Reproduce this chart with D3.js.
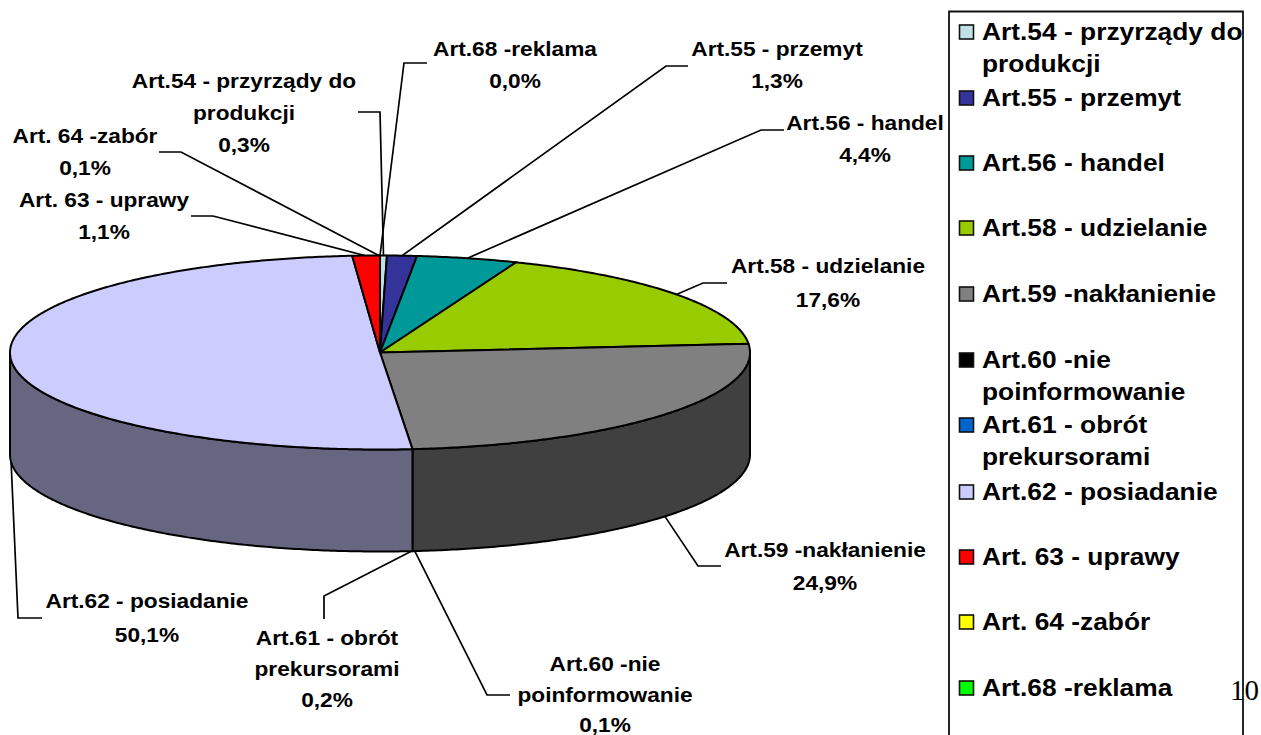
<!DOCTYPE html>
<html>
<head>
<meta charset="utf-8">
<script src="https://cdn.jsdelivr.net/npm/d3@7/dist/d3.min.js"></script>
<style>
html,body{margin:0;padding:0;background:#fff;overflow:hidden}
svg{display:block}
text{font-family:"Liberation Sans",Arial,sans-serif;font-weight:700;fill:#000}
</style>
</head>
<body>
<svg id="chart" width="1261" height="735"></svg>
<script>
// ---- data ----
const categories = [
  "Art.54 - przyrządy do\nprodukcji",
  "Art.55 - przemyt",
  "Art.56 - handel",
  "Art.58 - udzielanie",
  "Art.59 -nakłanienie",
  "Art.60 -nie\npoinformowanie",
  "Art.61 - obrót\nprekursorami",
  "Art.62 - posiadanie",
  "Art. 63 - uprawy",
  "Art. 64 -zabór",
  "Art.68 -reklama"
];
const values = [0.3, 1.3, 4.4, 17.6, 24.9, 0.1, 0.2, 50.1, 1.1, 0.1, 0.0];
const sliceColors = ["#BFE1E6","#333399","#009999","#99CC00","#808080","#000000","#0066CC","#CCCCFF","#FF0000","#FFFF00","#00FF00"];
const sideColors  = ["#60707A","#1A1A4D","#004D4D","#4D6600","#404040","#000000","#003366","#666680","#800000","#808000","#008000"];
const pageNumber = "10";

// ---- layout (separate from the data) ----
const cx = 380, cy = 352.5, rx = 370, ry = 97, depth = 102;
const labelLayout = [
  {x:244, y:88,  gap:32, elbow:[380,112], end:[358,112]},
  {x:777, y:56,  gap:32, elbow:[666,66],  end:[688,66]},
  {x:865, y:130, gap:32, elbow:[761,130], end:[784,130]},
  {x:828, y:273, gap:34, elbow:[703,283], end:[727,283]},
  {x:825, y:557, gap:33, elbow:[698,566], end:[721,566]},
  {x:605, y:671, gap:30.5, elbow:[487,695], end:[510,695]},
  {x:327, y:645, gap:31, elbow:[324,596], end:[324,619]},
  {x:147, y:608, gap:34, elbow:[18,618],  end:[42,618]},
  {x:104, y:207, gap:32, elbow:[213,216], end:[191,216]},
  {x:85,  y:143, gap:32, elbow:[181,152], end:[159,152]},
  {x:515, y:56,  gap:32, elbow:[404,63],  end:[427,63]}
];
const legendRows = [32,98,163,228,294,360,425,492,557,622,688];
const tinySlice = 0.25;      // slices this small vanish into the outline, as in the source picture

const svg = d3.select("#chart");
const xs = d3.scaleLinear().domain([-1,1]).range([cx-rx, cx+rx]);
const ys = d3.scaleLinear().domain([-1,1]).range([cy-ry, cy+ry]);
const px = a => xs(Math.sin(a));
const py = a => ys(-Math.cos(a));
const line = d3.line();

const arcs = d3.pie().sort(null).value(d => d).startAngle(0).endAngle(2*Math.PI)(values);
const samples = (a0, a1) => {
  const n = Math.max(2, Math.ceil((a1-a0)/0.01));
  return d3.range(n+1).map(i => a0 + (a1-a0)*i/n);
};

// visible extents: a visible slice reaches to the middle of any run of tiny neighbours
const visible = arcs.map((d,i) => {
  if (values[i] < tinySlice) return null;
  let s = i, e = i;
  while (s > 0 && values[s-1] < tinySlice) s--;
  while (e < arcs.length-1 && values[e+1] < tinySlice) e++;
  const start = s === i ? d.startAngle : (arcs[s].startAngle + d.startAngle)/2;
  const end = e === i ? d.endAngle : (e === arcs.length-1 ? 2*Math.PI : (d.endAngle + arcs[e].endAngle)/2);
  return {start, end};
});

// side walls (front half only)
const front = svg.append("g");
visible.forEach((d,i) => {
  if (!d) return;
  const a0 = Math.max(d.start, Math.PI/2), a1 = Math.min(d.end, 3*Math.PI/2);
  if (a1 <= a0) return;
  const top = samples(a0,a1).map(a => [px(a), py(a)]);
  const bot = top.slice().reverse().map(p => [p[0], p[1]+depth]);
  front.append("path")
    .attr("d", line(top.concat(bot)) + "Z")
    .attr("fill", sideColors[i]).attr("stroke","#000").attr("stroke-width",2)
    .attr("stroke-linejoin","round");
});

// top face
const topFace = svg.append("g");
visible.forEach((d,i) => {
  if (!d) return;
  const pts = [[cx,cy]].concat(samples(d.start,d.end).map(a => [px(a), py(a)]));
  topFace.append("path")
    .attr("d", line(pts) + "Z")
    .attr("fill", sliceColors[i]).attr("stroke","#000").attr("stroke-width",2)
    .attr("stroke-linejoin","round");
});

// text helper: Arial-like bold slightly stretched sideways, as in the source
function stretched(parent, str, x, y, size, factor, anchor) {
  const t = parent.append("text").attr("x",x).attr("y",y).attr("font-size",size)
    .attr("text-anchor",anchor).text(str);
  const w = t.node().getComputedTextLength();
  t.attr("textLength", w*factor).attr("lengthAdjust","spacingAndGlyphs");
  return t;
}

// leaders and data labels
const fmt = v => v.toFixed(1).replace(".", ",") + "%";
const leaders = svg.append("g");
const labels = svg.append("g");
arcs.forEach((d,i) => {
  const mid = (d.startAngle + d.endAngle)/2;
  const l = labelLayout[i];
  const onWall = mid > Math.PI/2 && mid < 3*Math.PI/2;
  const start = [px(mid), py(mid) + (onWall ? depth : 0)];
  leaders.append("path")
    .attr("d", line([start, l.elbow, l.end]))
    .attr("fill","none").attr("stroke","#000").attr("stroke-width",1.7);
  categories[i].split("\n").concat(fmt(values[i])).forEach((s,k) =>
    stretched(labels, s, l.x, l.y + k*l.gap, 21, 1.08, "middle"));
});

// legend
svg.append("path")
  .attr("d", line([[949,737],[949,11.5],[1243,11.5],[1243,737]]))
  .attr("fill","none").attr("stroke","#111").attr("stroke-width",1.8);
const legend = svg.append("g");
categories.forEach((c,i) => {
  const yc = legendRows[i];
  legend.append("rect").attr("x",959.5).attr("y",yc-7).attr("width",14).attr("height",14)
    .attr("fill",sliceColors[i]).attr("stroke","#111").attr("stroke-width",1.6);
  c.split("\n").forEach((s,k) =>
    stretched(legend, s, 982, yc+7.5+k*32.5, 23, 1.145, "start"));
});

// page number
svg.append("text").attr("x",1230).attr("y",700)
  .style("font-family",'"Liberation Serif","Times New Roman",serif').style("font-weight",400)
  .attr("font-size",29).text(pageNumber);
</script>
</body>
</html>
